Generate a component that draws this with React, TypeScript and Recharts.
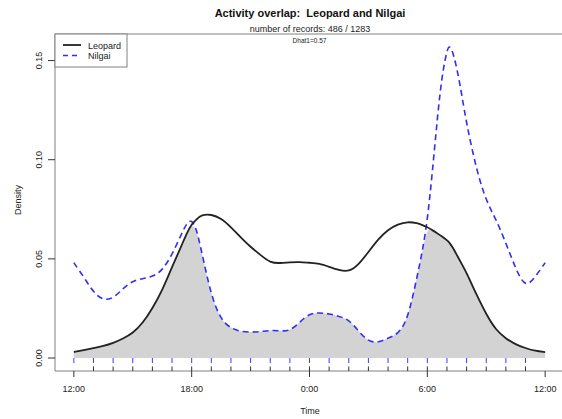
import React from 'react';
import { ComposedChart, Line, Area, XAxis, YAxis, Scatter, ReferenceArea } from 'recharts';

const FONT = "'Liberation Sans', Arial, Helvetica, sans-serif";

const hours = [0, 0.5, 1, 1.5, 2, 2.5, 3, 3.5, 4, 4.5, 5, 5.5, 5.75, 6, 6.25, 6.5, 7, 7.5, 8, 8.5, 9, 9.5, 10, 10.5, 11, 11.5, 12, 12.5, 13, 13.5, 14, 14.5, 15, 15.5, 16, 16.5, 17, 17.5, 17.75, 18, 18.25, 18.5, 18.75, 19, 19.1, 19.25, 19.5, 19.75, 20, 20.5, 21, 21.5, 22, 22.5, 23, 23.5, 24];

const leopard = [0.003, 0.004, 0.005, 0.006, 0.0075, 0.0098, 0.0125, 0.0175, 0.025, 0.034, 0.046, 0.057, 0.063, 0.0675, 0.070, 0.0722, 0.0725, 0.0705, 0.066, 0.0608, 0.056, 0.052, 0.048, 0.0478, 0.0483, 0.0485, 0.048, 0.0477, 0.046, 0.0443, 0.0434, 0.047, 0.0535, 0.060, 0.0648, 0.0675, 0.0688, 0.068, 0.067, 0.066, 0.0645, 0.063, 0.0613, 0.0594, 0.0585, 0.0565, 0.052, 0.0475, 0.043, 0.032, 0.022, 0.014, 0.0098, 0.0068, 0.005, 0.0035, 0.003];

const nilgai = [0.048, 0.041, 0.033, 0.029, 0.030, 0.035, 0.039, 0.040, 0.041, 0.044, 0.052, 0.063, 0.068, 0.070, 0.065, 0.054, 0.031, 0.019, 0.015, 0.0133, 0.013, 0.0133, 0.014, 0.0137, 0.0135, 0.018, 0.0225, 0.0228, 0.0224, 0.021, 0.0195, 0.0135, 0.0082, 0.0078, 0.010, 0.012, 0.019, 0.042, 0.054, 0.069, 0.093, 0.120, 0.143, 0.155, 0.1575, 0.156, 0.1467, 0.133, 0.118, 0.095, 0.079, 0.070, 0.058, 0.045, 0.035, 0.041, 0.048];

const xTickValues = [0, 6, 12, 18, 24];
const xTickLabels = ['12:00', '18:00', '0:00', '6:00', '12:00'];
const yTickValues = [0, 0.05, 0.1, 0.15];
const yTickLabels = ['0.00', '0.05', '0.10', '0.15'];

const rugHoursNilgai = [0, 1, 2, 3, 4, 5, 6, 7, 8, 9, 10, 11, 12, 13, 14, 15, 16, 17, 18, 19, 20, 21, 22, 23];
const rugHoursLeopard = [1, 2, 3, 4, 5, 6, 7, 8, 9, 10, 11, 12, 13, 14, 15, 16, 17, 18, 19, 20, 21, 22, 23];

const seriesNames = ['Leopard', 'Nilgai'];
const titleText = 'Activity overlap:  Leopard and Nilgai';
const subtitleText = 'number of records: 486 / 1283';
const dhatText = 'Dhat1=0.57';

const data = hours.map((h, i) => ({
  h,
  leopard: leopard[i],
  nilgai: nilgai[i],
  overlap: Math.min(leopard[i], nilgai[i]),
}));
const rugNilgai = rugHoursNilgai.map((h) => ({ h, zero: 0 }));
const rugLeopard = rugHoursLeopard.map((h) => ({ h, zero: 0 }));

const XTick = (props: any) => {
  const { x, y, payload } = props;
  const idx = xTickValues.indexOf(payload.value);
  return (
    <text x={x} y={y} dy={14.5} textAnchor="middle" fontSize={9} fill="#222" fontFamily={FONT}>
      {idx >= 0 ? xTickLabels[idx] : ''}
    </text>
  );
};

const YTick = (props: any) => {
  const { x, y, payload } = props;
  const idx = yTickValues.indexOf(payload.value);
  const bx = x - 5.5;
  return (
    <text x={bx} y={y} transform={`rotate(-90, ${bx}, ${y})`} textAnchor="middle" fontSize={9} fill="#222" fontFamily={FONT}>
      {idx >= 0 ? yTickLabels[idx] : ''}
    </text>
  );
};

const BlueRug = (props: any) => (
  <line x1={props.cx} x2={props.cx} y1={props.cy} y2={props.cy + 5} stroke="#3a3aff" strokeWidth={1} />
);
const BlackRug = (props: any) => (
  <line x1={props.cx} x2={props.cx} y1={props.cy + 8.5} y2={props.cy + 13} stroke="#333" strokeWidth={1} />
);

export default function App() {
  return (
    <div style={{ position: 'absolute', left: 0, top: 0, width: 562, height: 419, overflow: 'hidden', background: '#fff' }}>
      <ComposedChart width={580} height={419} data={data} margin={{ top: 34, right: 16, bottom: 0, left: 0 }}>
        <XAxis
          type="number"
          dataKey="h"
          domain={[-0.96, 24.96]}
          allowDataOverflow
          ticks={xTickValues}
          interval={0}
          axisLine={false}
          tickLine={{ stroke: '#333' }}
          tickSize={6}
          tickMargin={0}
          height={48}
          tick={<XTick />}
        />
        <YAxis
          type="number"
          domain={[-0.00655, 0.1634]}
          allowDataOverflow
          ticks={yTickValues}
          interval={0}
          axisLine={false}
          tickLine={{ stroke: '#333' }}
          tickSize={7}
          tickMargin={0}
          width={55}
          tick={<YTick />}
        />
        <Area
          type="basis"
          dataKey="overlap"
          fill="#d3d3d3"
          fillOpacity={1}
          stroke="none"
          baseValue={0}
          isAnimationActive={false}
        />
        <Scatter data={rugNilgai} dataKey="zero" shape={<BlueRug />} isAnimationActive={false} />
        <Scatter data={rugLeopard} dataKey="zero" shape={<BlackRug />} isAnimationActive={false} />
        <Line
          type="basis"
          dataKey="nilgai"
          stroke="#2f2ff5"
          strokeWidth={1.6}
          strokeDasharray="6 4"
          dot={false}
          isAnimationActive={false}
        />
        <Line
          type="basis"
          dataKey="leopard"
          stroke="#222"
          strokeWidth={1.8}
          dot={false}
          isAnimationActive={false}
        />
        <ReferenceArea x1={-0.96} x2={24.96} y1={-0.00655} y2={0.1634} fill="none" stroke="#808080" strokeWidth={1} ifOverflow="visible" />
      </ComposedChart>
      <svg width={562} height={419} style={{ position: 'absolute', left: 0, top: 0, pointerEvents: 'none' }}>
        <text x={310} y={17} textAnchor="middle" fontSize={11} fontWeight="bold" fill="#111" fontFamily={FONT} style={{ whiteSpace: 'pre' }}>{titleText}</text>
        <text x={310} y={32.3} textAnchor="middle" fontSize={9} fill="#222" fontFamily={FONT}>{subtitleText}</text>
        <text x={309.5} y={43} textAnchor="middle" fontSize={6.5} fill="#222" fontFamily={FONT}>{dhatText}</text>
        <text x={21} y={200} transform="rotate(-90, 21, 200)" textAnchor="middle" fontSize={9} fill="#222" fontFamily={FONT}>Density</text>
        <text x={310} y={414} textAnchor="middle" fontSize={9} fill="#222" fontFamily={FONT}>Time</text>
        <rect x={55} y={34} width={72} height={33} fill="#fff" stroke="#808080" strokeWidth={1} />
        <line x1={63} x2={81} y1={45} y2={45} stroke="#222" strokeWidth={1.8} />
        <text x={88} y={48.5} fontSize={9} fill="#222" fontFamily={FONT}>{seriesNames[0]}</text>
        <line x1={63} x2={81} y1={55.5} y2={55.5} stroke="#2f2ff5" strokeWidth={1.6} strokeDasharray="5 4" />
        <text x={88} y={58.5} fontSize={9} fill="#222" fontFamily={FONT}>{seriesNames[1]}</text>
      </svg>
    </div>
  );
}
